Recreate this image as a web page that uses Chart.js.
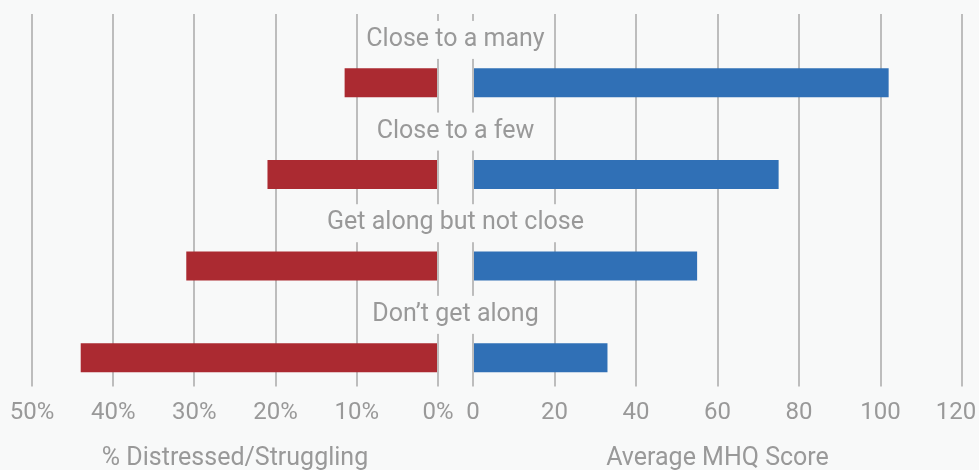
<!DOCTYPE html>
<html>
<head>
<meta charset="utf-8">
<script src="https://cdn.jsdelivr.net/npm/chart.js"></script>
<style>
  html, body { margin: 0; padding: 0; background: #f8f9f9; }
  #wrap { width: 979px; height: 470px; }
</style>
</head>
<body>
<div id="wrap"><canvas id="chart"></canvas></div>
<script>
// relationship groups, top to bottom
const groups = ['Close to a many', 'Close to a few', 'Get along but not close', 'Don\u2019t get along'];
// left panel: share distressed / struggling (%)
const distressedPct = [11.5, 21, 31, 44];
// right panel: average MHQ score
const mhqScore = [102, 75, 55, 33];
const pctTicks = [0, 10, 20, 30, 40, 50];
const mhqTicks = [0, 20, 40, 60, 80, 100, 120];

const BG = '#f8f9f9';
const TEXT = '#999999';
const GRID = '#bdbdbd';
const FONT = 'Roboto, "Noto Sans", sans-serif';

Chart.defaults.font.family = FONT;
Chart.defaults.font.size = 24;
Chart.defaults.color = TEXT;

// group names sit above each pair of bars, on a plain box so grid lines break behind them
const groupLabels = {
  id: 'groupLabels',
  afterDatasetsDraw(chart) {
    const {ctx, scales} = chart;
    const y = scales.y, xl = scales.xl, xr = scales.xr;
    const band = y.getPixelForValue(1) - y.getPixelForValue(0);
    const cx = (xl.right + xr.left) / 2;
    ctx.save();
    ctx.font = '25px ' + FONT;
    ctx.textAlign = 'center';
    ctx.textBaseline = 'middle';
    groups.forEach((g, i) => {
      const cy = y.getPixelForValue(i) - band / 4 + 3;
      const w = ctx.measureText(g).width + 12;
      ctx.fillStyle = BG;
      ctx.fillRect(cx - w / 2, cy - 19, w, 38);
      ctx.fillStyle = TEXT;
      ctx.fillText(g, cx, cy);
    });
    ctx.restore();
  }
};

const axisGrid = { color: GRID, lineWidth: 2, tickLength: 6, tickColor: GRID };
// keep the plot edges where the layout padding puts them
const noEdgePadding = s => { s.paddingLeft = 0; s.paddingRight = 0; };
// the last score label is nudged left so it stays on the canvas
const mhqLabel = v => (v === mhqTicks[mhqTicks.length - 1] ? v + '  ' : '' + v);

new Chart(document.getElementById('chart'), {
  type: 'bar',
  data: {
    labels: groups,
    datasets: [
      // empty slot that leaves room for the group name
      { label: '', data: groups.map(() => null), xAxisID: 'xr', stack: 'label' },
      { label: '% Distressed/Struggling', data: distressedPct, xAxisID: 'xl', stack: 'bar',
        backgroundColor: '#ab2a31' },
      { label: 'Average MHQ Score', data: mhqScore, xAxisID: 'xr', stack: 'bar',
        backgroundColor: '#3070b6' }
    ]
  },
  options: {
    indexAxis: 'y',
    responsive: true,
    maintainAspectRatio: false,
    animation: false,
    categoryPercentage: 1,
    barPercentage: 0.633,
    layout: { padding: { top: 14, left: 32, right: 17, bottom: 0 } },
    plugins: { legend: { display: false }, tooltip: { enabled: false } },
    scales: {
      xl: {
        type: 'linear', position: 'bottom', stack: 'bottom', stackWeight: 406,
        reverse: true, min: 0, max: 50, stacked: false,
        afterBuildTicks: s => { s.ticks = pctTicks.map(v => ({ value: v })); },
        afterFit: noEdgePadding,
        grid: axisGrid,
        border: { display: false },
        ticks: { callback: v => v + '%', padding: 11.6, maxRotation: 0, minRotation: 0, autoSkip: false },
        title: { display: true, text: '% Distressed/Struggling', font: { size: 25 },
                 padding: { top: 5.4, bottom: -4 } }
      },
      xgap: {
        type: 'linear', position: 'bottom', stack: 'bottom', stackWeight: 35,
        afterFit: noEdgePadding,
        grid: { display: false }, border: { display: false }, ticks: { display: false }
      },
      xr: {
        type: 'linear', position: 'bottom', stack: 'bottom', stackWeight: 489,
        min: 0, max: 120, stacked: false,
        afterBuildTicks: s => { s.ticks = mhqTicks.map(v => ({ value: v })); },
        afterFit: noEdgePadding,
        grid: axisGrid,
        border: { display: false },
        ticks: { callback: mhqLabel, padding: 11.6, maxRotation: 0, minRotation: 0, autoSkip: false },
        title: { display: true, text: 'Average MHQ Score', font: { size: 25 },
                 padding: { top: 5.4, bottom: -4 } }
      },
      y: { display: false }
    }
  },
  plugins: [groupLabels]
});
</script>
</body>
</html>
